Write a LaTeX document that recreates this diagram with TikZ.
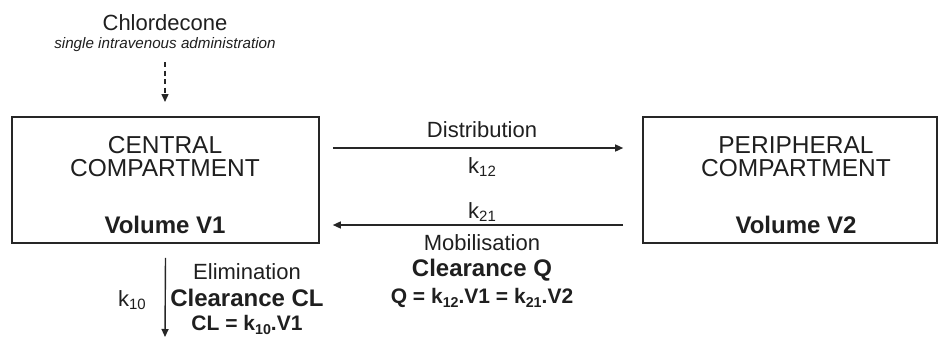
\documentclass[tikz,border=0pt]{standalone}
\usepackage{fontspec}
\setmainfont{Liberation Sans}
\usetikzlibrary{arrows.meta,calc}
\makeatletter
\newcommand\ksub[1]{\raisebox{-0.32ex}{\fontsize{\dimexpr0.68\dimexpr\f@size pt\relax}{1}\selectfont #1}}
\makeatother
\tikzset{
  box/.style={draw=black!85,line width=1.6pt,minimum width=307pt,minimum height=126pt,inner sep=0pt},
  reg/.style={font=\fontsize{22}{26}\selectfont,inner sep=0pt,text=black!88},
  caps/.style={font=\fontsize{24.5}{28}\selectfont,inner sep=0pt,text=black!88},
  bld/.style={font=\fontsize{24}{28}\selectfont\bfseries,inner sep=0pt,text=black!88},
  eqn/.style={font=\fontsize{21}{25}\selectfont\bfseries,inner sep=0pt,text=black!88},
  small/.style={font=\fontsize{15.2}{18}\selectfont\itshape,inner sep=0pt,text=black!88},
  arr/.style={draw=black!85,line width=1.4pt,-{Triangle[length=8pt,width=7pt]}},
}
\begin{document}
\begin{tikzpicture}[x=1pt,y=-1pt]
\useasboundingbox (0,0) rectangle (938,338);
% top
\node[reg] (chl) at (165,23) {Chlordecone};
\node[small] (adm) at (165,45) {single intravenous administration};
\coordinate (doseend) at (165,102);
\draw[arr,dash pattern=on 5pt off 3.5pt] (165,62) -- (doseend);
% boxes
\node[box] (central) at (165.5,180) {};
\node[box,minimum width=294pt] (peripheral) at (790,180) {};
\node[caps] (c1) at (165,145) {CENTRAL};
\node[caps] (c2) at (165,168) {COMPARTMENT};
\node[bld] (c3) at (165,225) {Volume V1};
\node[caps] (p1) at (796,145) {PERIPHERAL};
\node[caps] (p2) at (796,168) {COMPARTMENT};
\node[bld] (p3) at (796,225) {Volume V2};
% exchange arrows
\draw[arr] ($(central.east)+(13,-32)$) -- ($(peripheral.west)+(-19,-32)$);
\draw[arr] ($(peripheral.west)+(-19,45)$) -- ($(central.east)+(13,45)$);
\node[reg] (dist) at (482,130) {Distribution};
\node[reg] (k12) at (482,167) {k\ksub{12}};
\node[reg] (k21) at (482,212) {k\ksub{21}};
\node[reg] (mob) at (482,243) {Mobilisation};
\node[bld] (clq) at (482,270) {Clearance Q};
\node[eqn] (qeq) at (482,298) {Q = k\ksub{12}.V1 = k\ksub{21}.V2};
% elimination
\coordinate (elimend) at (165,337);
\draw[arr] ($(central.south)+(0,14)$) -- (elimend);
\node[reg] (elim) at (247,272) {Elimination};
\node[bld] (clcl) at (247,298) {Clearance CL};
\node[eqn] (cleq) at (247,325) {CL = k\ksub{10}.V1};
\node[reg] (k10) at (132,300) {k\ksub{10}};
\end{tikzpicture}
\end{document}
